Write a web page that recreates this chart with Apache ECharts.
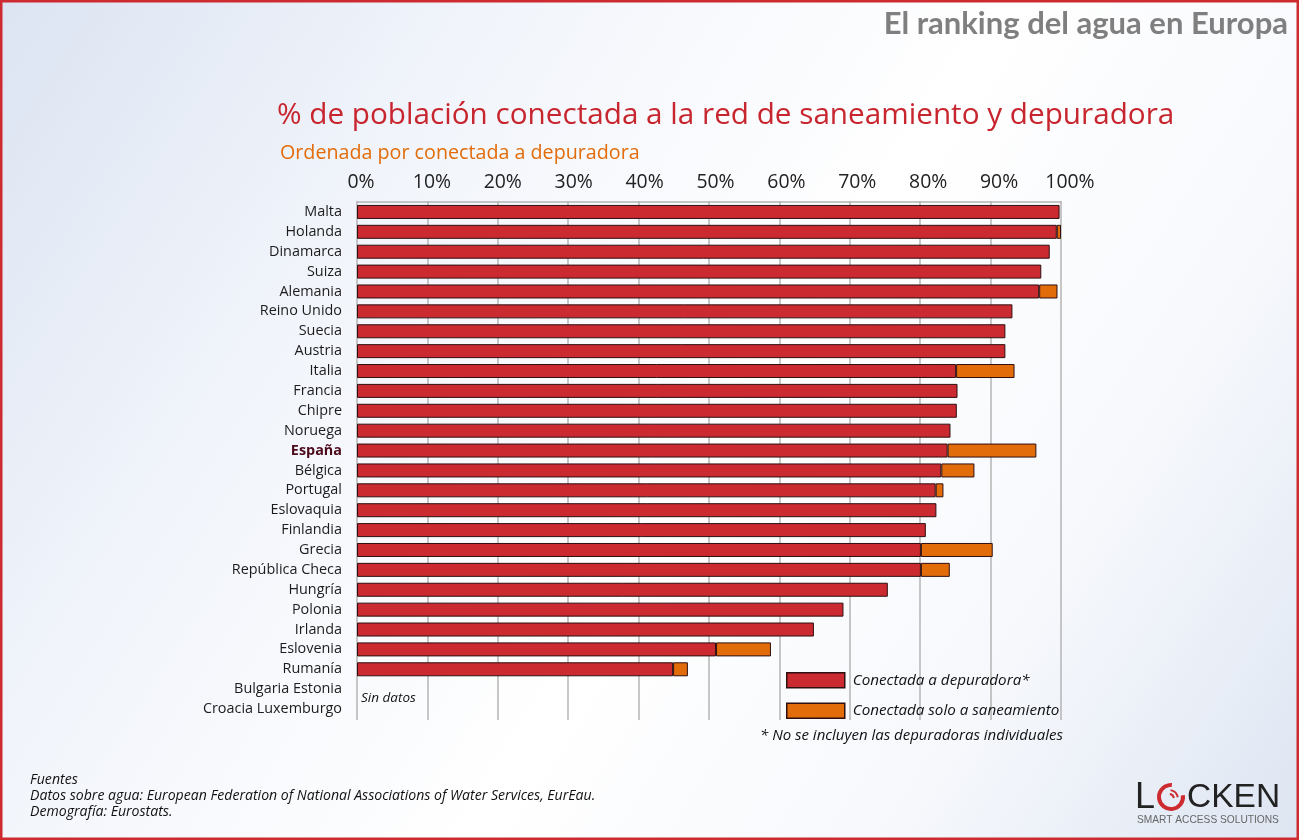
<!DOCTYPE html>
<html><head><meta charset="utf-8">
<script src="https://cdn.jsdelivr.net/npm/echarts@6/dist/echarts.min.js"></script>
<style>html,body{margin:0;padding:0;background:#fff}#c{width:1299px;height:840px}</style>
</head><body><div id="c"></div>
<script>
const categories = ['Malta','Holanda','Dinamarca','Suiza','Alemania','Reino Unido','Suecia','Austria','Italia','Francia','Chipre','Noruega','España','Bélgica','Portugal','Eslovaquia','Finlandia','Grecia','República Checa','Hungría','Polonia','Irlanda','Eslovenia','Rumanía','Bulgaria Estonia','Croacia Luxemburgo'];
const depuradora = [99.8,99.4,98.4,97.2,96.9,93.1,92.1,92.1,85.1,85.3,85.2,84.3,83.9,83.0,82.2,82.3,80.8,80.1,80.1,75.4,69.1,64.9,51.0,44.9,null,null];
const saneamiento = [null,0.6,null,null,2.6,null,null,null,8.3,null,null,null,12.6,4.7,1.1,null,null,10.2,4.1,null,null,null,7.8,2.1,null,null];
const xTicks = {min:0,max:100,interval:10};
const RED='#CB2A30', ORANGE='#E36C0A', EDGE='#2f0f11';
const FONT='"Open Sans","Noto Sans",sans-serif';
const chart = echarts.init(document.getElementById('c'),null,{renderer:'canvas'});
function txt(x,y,text,o){return {type:'text',x,y,z:20,style:Object.assign({text,fontFamily:FONT,fill:'#000',verticalAlign:'middle'},o)};}
const LOGO='"Liberation Sans",sans-serif';
chart.setOption({
  animation:false,
  backgroundColor:{type:'linear',x:0,y:0,x2:1,y2:1,colorStops:[{offset:0,color:'#DCE4F2'},{offset:0.28,color:'#F2F5FB'},{offset:0.55,color:'#FFFFFF'},{offset:0.78,color:'#F6F8FC'},{offset:1,color:'#DDE5F2'}]},
  grid:[
    {left:357,top:202,width:704,height:517},
    {left:357,top:201,width:704,height:519},
    {left:361,top:201,width:709,height:519}
  ],
  xAxis:[
    {gridIndex:0,type:'value',position:'top',min:xTicks.min,max:xTicks.max,interval:xTicks.interval,
     axisLine:{show:true,lineStyle:{color:'#b4b4b4',width:1.5}},axisTick:{show:false},splitLine:{show:false},axisLabel:{show:false}},
    {gridIndex:1,type:'value',position:'bottom',min:xTicks.min,max:xTicks.max,interval:xTicks.interval,
     axisLine:{show:false},axisTick:{show:false},axisLabel:{show:false},
     splitLine:{show:true,lineStyle:{color:'#b4b4b4',width:1.5}}},
    {gridIndex:2,type:'value',position:'top',min:xTicks.min,max:xTicks.max,interval:xTicks.interval,
     axisLine:{show:false},axisTick:{show:false},splitLine:{show:false},
     axisLabel:{formatter:'{value}%',fontFamily:FONT,fontSize:19.4,color:'#222',margin:9}}
  ],
  yAxis:[
    {gridIndex:0,type:'category',inverse:true,data:categories,axisLine:{show:false},axisTick:{show:false},splitLine:{show:false},
     axisLabel:{interval:0,margin:15,fontFamily:FONT,fontSize:14.4,color:'#1c1c1c',
       formatter:v=>v==='España'?'{es|'+v+'}':v,
       rich:{es:{fontFamily:FONT,fontSize:14.4,fontWeight:'bold',color:'#4d0a1a'}}}},
    {gridIndex:1,type:'value',min:0,max:1,show:false},
    {gridIndex:2,type:'value',min:0,max:1,show:false}
  ],
  legend:{left:786,top:672,padding:0,orient:'vertical',itemWidth:58,itemHeight:15,itemGap:14,icon:'rect',
    itemStyle:{borderWidth:1.5,borderColor:EDGE},
    textStyle:{fontFamily:FONT,fontStyle:'italic',fontSize:15.2,color:'#111',padding:[0,0,0,3]},
    data:['Conectada a depuradora*','Conectada solo a saneamiento']},
  series:[
    {name:'Conectada a depuradora*',type:'bar',stack:'a',xAxisIndex:0,yAxisIndex:0,barWidth:14,data:depuradora,
     itemStyle:{color:RED,borderColor:EDGE,borderWidth:1}},
    {name:'Conectada solo a saneamiento',type:'bar',stack:'a',xAxisIndex:0,yAxisIndex:0,barWidth:14,data:saneamiento,
     itemStyle:{color:ORANGE,borderColor:EDGE,borderWidth:1}}
  ],
  graphic:[
    {type:'rect',z:30,shape:{x:1,y:1,width:1297,height:838},style:{fill:'none',stroke:'#CE2B30',lineWidth:3}},
    txt(1288,24,'El ranking del agua en Europa',{fontFamily:'Lato,sans-serif',fontSize:31,fontWeight:'bold',fill:'#7f7f7f',align:'right'}),
    txt(277,116,'% de población conectada a la red de saneamiento y depuradora',{fontSize:29.7,fill:'#C8262F'}),
    txt(280,153,'Ordenada por conectada a depuradora',{fontSize:19.7,fill:'#E36C0A'}),
    txt(361,698,'Sin datos',{fontSize:13.5,fontStyle:'italic',fill:'#111'}),
    txt(760,736,'* No se incluyen las depuradoras individuales',{fontSize:15,fontStyle:'italic',fill:'#111'}),
    txt(30,780,'Fuentes',{fontSize:14.1,fontStyle:'italic',fill:'#111'}),
    txt(30,796,'Datos sobre agua: European Federation of National Associations of Water Services, EurEau.',{fontSize:14.1,fontStyle:'italic',fill:'#111'}),
    txt(30,812,'Demografía: Eurostats.',{fontSize:14.1,fontStyle:'italic',fill:'#111'}),
    txt(1135,798,'L',{fontFamily:LOGO,fontSize:36,fill:'#222'}),
    {type:'arc',z:20,shape:{cx:1171,cy:797,r:12,startAngle:-0.15,endAngle:-1.5,clockwise:true},style:{fill:'none',stroke:'#CE2B30',lineWidth:4}},
    {type:'arc',z:20,shape:{cx:1169,cy:799,r:5,startAngle:-1.4,endAngle:-0.2,clockwise:true},style:{fill:'none',stroke:'#CE2B30',lineWidth:2}},
    {type:'arc',z:20,shape:{cx:1169,cy:799,r:9,startAngle:-1.4,endAngle:-0.2,clockwise:true},style:{fill:'none',stroke:'#CE2B30',lineWidth:2}},
    txt(1187,798,'CKEN',{fontFamily:LOGO,fontSize:33.5,fill:'#222'}),
    txt(1137,820,'SMART ACCESS SOLUTIONS',{fontFamily:LOGO,fontSize:10.2,fill:'#666'})
  ]
});
</script></body></html>
